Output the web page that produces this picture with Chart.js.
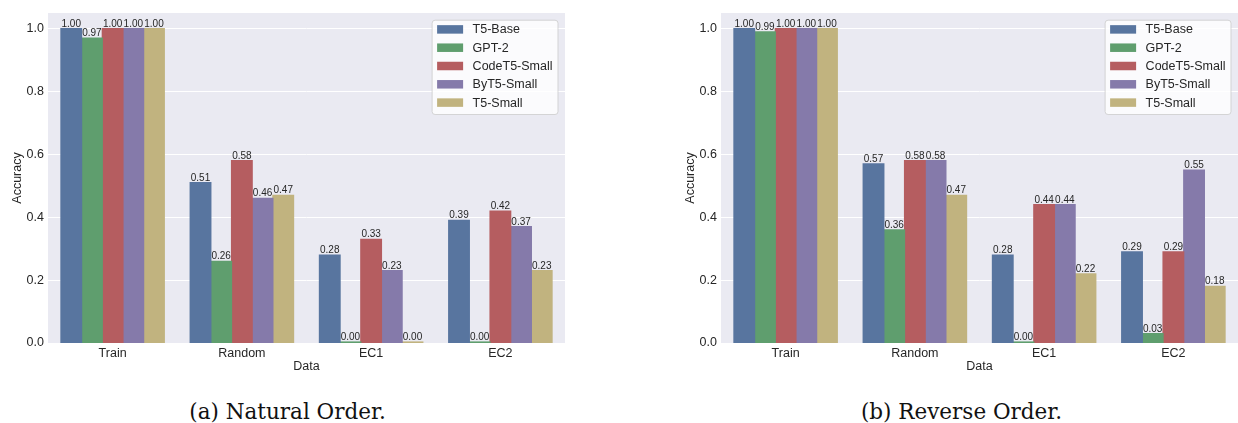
<!DOCTYPE html>
<html>
<head>
<meta charset="utf-8">
<script src="https://cdn.jsdelivr.net/npm/chart.js@4.4.1/dist/chart.umd.min.js"></script>
<style>
  html, body { margin: 0; padding: 0; background: #fff; width: 1238px; height: 423px; overflow: hidden; }
  canvas { position: absolute; top: 0; }
  #natural { left: 0; }
  #reverse { left: 673px; }
  .cap { position: absolute; top: 401px; transform: translateX(-50%); font-family: 'DejaVu Serif', serif;
         font-size: 21.5px; line-height: 1; color: #111; white-space: nowrap; }
</style>
</head>
<body>
<canvas id="natural" width="565" height="376"></canvas>
<canvas id="reverse" width="565" height="376"></canvas>
<div class="cap" style="left:287.5px">(a) Natural Order.</div>
<div class="cap" style="left:961.5px">(b) Reverse Order.</div>
<script>
// Evaluation splits and models
const categories = ['Train', 'Random', 'EC1', 'EC2'];
const models = ['T5-Base', 'GPT-2', 'CodeT5-Small', 'ByT5-Small', 'T5-Small'];
const yTicks = [0.0, 0.2, 0.4, 0.6, 0.8, 1.0];

// Accuracy, natural order
const natT5Base    = [1.00, 0.51, 0.28, 0.39];
const natGPT2      = [0.97, 0.26, 0.00, 0.00];
const natCodeT5    = [1.00, 0.58, 0.33, 0.42];
const natByT5      = [1.00, 0.46, 0.23, 0.37];
const natT5Small   = [1.00, 0.47, 0.00, 0.23];

// Accuracy, reverse order
const revT5Base    = [1.00, 0.57, 0.28, 0.29];
const revGPT2      = [0.99, 0.36, 0.00, 0.03];
const revCodeT5    = [1.00, 0.58, 0.44, 0.29];
const revByT5      = [1.00, 0.58, 0.44, 0.55];
const revT5Small   = [1.00, 0.47, 0.22, 0.18];

// muted "deep" palette
const palette = ['#58759f', '#5f9e6e', '#b55d60', '#857aaa', '#c1b37f'];

const SANS = "'Liberation Sans', Arial, sans-serif";
const INK = '#262626';
Chart.defaults.font.family = SANS;
Chart.defaults.color = INK;

const panelBg = {
  id: 'panelBg',
  beforeDraw(chart) {
    const { ctx, chartArea: a } = chart;
    ctx.save();
    ctx.fillStyle = '#eaeaf2';
    ctx.fillRect(a.left, a.top, a.right - a.left, a.bottom - a.top);
    ctx.restore();
  }
};

const barValues = {
  id: 'barValues',
  afterDatasetsDraw(chart) {
    const ctx = chart.ctx;
    ctx.save();
    ctx.font = '10px ' + SANS;
    ctx.fillStyle = INK;
    ctx.textAlign = 'center';
    ctx.textBaseline = 'alphabetic';
    chart.data.datasets.forEach((ds, i) => {
      chart.getDatasetMeta(i).data.forEach((el, j) => {
        ctx.fillText(ds.data[j].toFixed(2), el.x, el.y - 2);
      });
    });
    ctx.restore();
  }
};

const innerLegend = {
  id: 'innerLegend',
  afterDraw(chart) {
    const { ctx, chartArea: a } = chart;
    ctx.save();
    ctx.font = '12.5px ' + SANS;
    const labels = chart.data.datasets.map(d => d.label);
    const textW = Math.max(...labels.map(l => ctx.measureText(l).width));
    const padL = 5.5, swW = 26, swH = 8.5, gap = 9.5, padR = 5, rowH = 18.3, firstRow = 9.7;
    const w = padL + swW + gap + textW + padR;
    const h = 94.3;
    const x = a.right - 7.5 - w, y = a.top + 6.7;
    ctx.beginPath();
    ctx.roundRect(x + 0.5, y + 0.5, w, h, 3);
    ctx.fillStyle = 'rgba(255,255,255,0.8)';
    ctx.fill();
    ctx.strokeStyle = 'rgba(204,204,204,0.8)';
    ctx.lineWidth = 1;
    ctx.stroke();
    ctx.textAlign = 'left';
    ctx.textBaseline = 'middle';
    chart.data.datasets.forEach((ds, i) => {
      const cy = y + firstRow + i * rowH;
      ctx.fillStyle = ds.backgroundColor;
      ctx.fillRect(x + padL, cy - swH / 2, swW, swH);
      ctx.fillStyle = INK;
      ctx.fillText(ds.label, x + padL + swW + gap, cy + 0.5);
    });
    ctx.restore();
  }
};

function makeChart(id, series) {
  return new Chart(document.getElementById(id), {
    type: 'bar',
    data: {
      labels: categories,
      datasets: series.map((vals, i) => ({
        label: models[i],
        data: vals,
        backgroundColor: palette[i],
        borderWidth: 0,
        inflateAmount: 0.6,
        minBarLength: 1,
        categoryPercentage: 0.8,
        barPercentage: 1.0
      }))
    },
    options: {
      responsive: false,
      animation: false,
      devicePixelRatio: 1,
      layout: { padding: { top: 13, left: 0, right: 0, bottom: 0 } },
      plugins: { legend: { display: false }, tooltip: { enabled: false } },
      scales: {
        x: {
          grid: { display: false, drawTicks: false },
          border: { display: false },
          ticks: { font: { size: 12.5 }, color: INK, padding: 3 },
          title: { display: true, text: 'Data', font: { size: 12.5 }, color: INK, padding: { top: 0, bottom: 2 } },
          afterFit(s) { s.height = 33; }
        },
        y: {
          min: 0,
          max: 1.05,
          grid: { color: '#ffffff', lineWidth: 1, drawTicks: false },
          border: { display: false },
          ticks: { font: { size: 12.5 }, color: INK, padding: 4, callback: v => v.toFixed(1) },
          afterBuildTicks(s) { s.ticks = yTicks.map(v => ({ value: v })); },
          title: { display: true, text: 'Accuracy', font: { size: 12.5 }, color: INK, padding: { top: 10, bottom: 0 } },
          afterFit(s) { s.width = 48; }
        }
      }
    },
    plugins: [panelBg, barValues, innerLegend]
  });
}

makeChart('natural', [natT5Base, natGPT2, natCodeT5, natByT5, natT5Small]);
makeChart('reverse', [revT5Base, revGPT2, revCodeT5, revByT5, revT5Small]);
</script>
</body>
</html>
